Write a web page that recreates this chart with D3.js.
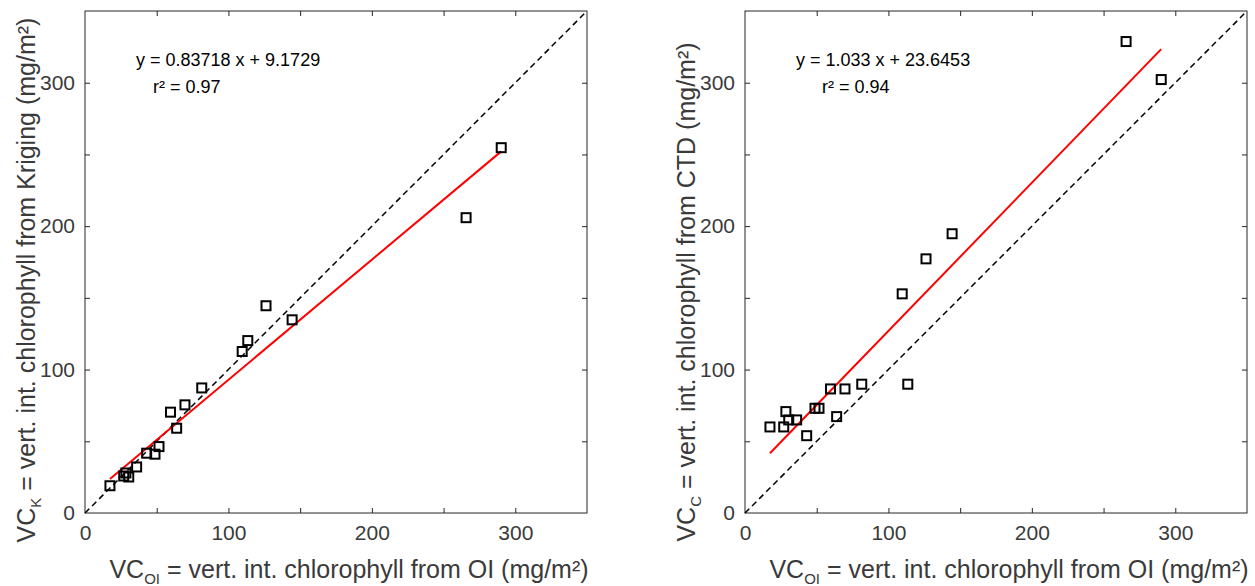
<!DOCTYPE html>
<html>
<head>
<meta charset="utf-8">
<script src="https://cdn.jsdelivr.net/npm/d3@7"></script>
<style>
  body { margin: 0; background: #fff; }
  svg { display: block; font-family: "Liberation Sans", Arial, Helvetica, sans-serif; }
</style>
</head>
<body>
<div class="chart"></div>
<script>
const width = 1255;
const height = 586;

// OI values (x axis, shared by both panels)
const vcOI = [17.4, 27, 28.5, 30.5, 36, 43, 48.8, 51.6, 59.6, 63.9, 69.7, 81.4, 109.6, 113.5, 126.2, 144.4, 265.7, 290.2];
// kriging values (left panel)
const vcK = [19, 25.8, 27.9, 25.1, 32.1, 41.7, 41.0, 46.3, 70.3, 59.1, 75.4, 87.2, 112.6, 120.2, 144.5, 134.7, 205.9, 254.7];
// CTD values (right panel)
const vcC = [60, 60, 70.7, 64.9, 64.9, 53.9, 73, 73, 86.5, 67.2, 86.5, 89.8, 152.8, 89.8, 177.2, 194.7, 328.7, 302.2];

// fit coefficients printed on each panel
const fitSlope = [0.83718, 1.033];
const fitIntercept = [9.1729, 23.6453];
const fitR2 = ["0.97", "0.94"];

const tickVals = [0, 50, 100, 150, 200, 250, 300, 350];
const tickLabels = [0, 100, 200, 300];

const svg = d3.select(".chart")
    .append("svg")
    .attr("width", width)
    .attr("height", height)
    .attr("viewBox", [0, 0, width, height]);

const panels = [
    {left: 85, ys: vcK, sub: "K", src: "Kriging", eqX: 136, r2X: 153, ylabY: 280},
    {left: 745, ys: vcC, sub: "C", src: "CTD", eqX: 796, r2X: 822, ylabY: 292}
];
const plotTop = 11, size = 502;
const textCol = "#3a3a3a";

panels.forEach((p, i) => {
    const x = d3.scaleLinear().domain([0, 350]).range([p.left, p.left + size]);
    const y = d3.scaleLinear().domain([0, 350]).range([plotTop + size, plotTop]);
    const fmt = d => tickLabels.includes(d) ? d : "";

    const g = svg.append("g");

    // axes, ticks pointing inward
    const ax = [
        g.append("g").attr("transform", `translate(0,${plotTop + size})`)
            .call(d3.axisBottom(x).tickValues(tickVals).tickSize(-5).tickPadding(12).tickFormat(fmt)),
        g.append("g").attr("transform", `translate(${p.left},0)`)
            .call(d3.axisLeft(y).tickValues(tickVals).tickSize(-5).tickPadding(10).tickFormat(fmt)),
        g.append("g").attr("transform", `translate(0,${plotTop})`)
            .call(d3.axisTop(x).tickValues(tickVals).tickSize(-5).tickFormat("")),
        g.append("g").attr("transform", `translate(${p.left + size},0)`)
            .call(d3.axisRight(y).tickValues(tickVals).tickSize(-5).tickFormat(""))
    ];
    ax.forEach(a => {
        a.select(".domain").remove();
        a.selectAll(".tick line").attr("stroke", "#262626");
        a.selectAll("text").attr("fill", textCol).style("font-size", "21px");
    });
    // no tick marks at the corners
    ax.forEach(a => a.selectAll(".tick").filter(d => d === 0 || d === 350).select("line").remove());

    g.append("rect")
        .attr("x", p.left).attr("y", plotTop)
        .attr("width", size).attr("height", size)
        .attr("fill", "none").attr("stroke", "#262626").attr("stroke-width", 1);

    // 1:1 line
    g.append("line")
        .attr("x1", x(0)).attr("y1", y(0))
        .attr("x2", x(350)).attr("y2", y(350))
        .attr("stroke", "#000").attr("stroke-width", 1.5)
        .attr("stroke-dasharray", "6,4");

    // fit line
    const x0 = d3.min(vcOI), x1 = d3.max(vcOI);
    g.append("line")
        .attr("x1", x(x0)).attr("y1", y(fitSlope[i] * x0 + fitIntercept[i]))
        .attr("x2", x(x1)).attr("y2", y(fitSlope[i] * x1 + fitIntercept[i]))
        .attr("stroke", "#ff0000").attr("stroke-width", 2);

    // data squares
    const pts = vcOI.map((v, k) => [v, p.ys[k]]);
    g.append("g")
        .selectAll("rect")
        .data(pts)
        .join("rect")
        .attr("x", d => x(d[0]) - 4.5)
        .attr("y", d => y(d[1]) - 4.5)
        .attr("width", 9).attr("height", 9)
        .attr("fill", "none").attr("stroke", "#000").attr("stroke-width", 2);

    // equation
    g.append("text")
        .attr("x", p.eqX).attr("y", 66)
        .style("font-size", "18px").attr("fill", "#000")
        .text(`y = ${fitSlope[i]} x + ${fitIntercept[i]}`);
    g.append("text")
        .attr("x", p.r2X).attr("y", 93)
        .style("font-size", "18px").attr("fill", "#000")
        .text(`r² = ${fitR2[i]}`);

    // x label
    const xl = g.append("text")
        .attr("x", p.left + size / 2 + 13).attr("y", 578)
        .attr("text-anchor", "middle")
        .attr("fill", textCol).style("font-size", "25px");
    xl.append("tspan").text("VC");
    xl.append("tspan").attr("dy", 6).style("font-size", "15px").text("OI");
    xl.append("tspan").attr("dy", -6).text(" = vert. int. chlorophyll from OI (mg/m²)");

    // y label
    const yl = g.append("text")
        .attr("transform", `translate(${p.left - 50},${p.ylabY}) rotate(-90)`)
        .attr("text-anchor", "middle")
        .attr("fill", textCol).style("font-size", "25px");
    yl.append("tspan").text("VC");
    yl.append("tspan").attr("dy", 6).style("font-size", "15px").text(p.sub);
    yl.append("tspan").attr("dy", -6).text(` = vert. int. chlorophyll from ${p.src} (mg/m²)`);
});
</script>
</body>
</html>
